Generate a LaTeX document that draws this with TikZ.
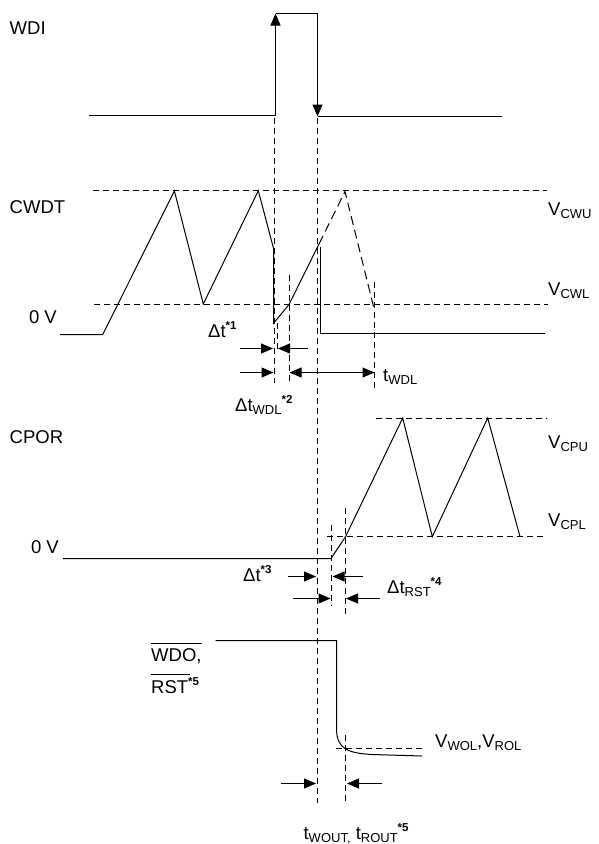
\documentclass[tikz,border=0pt]{standalone}
\usepackage{fontspec}
\setmainfont{Liberation Sans}
\usetikzlibrary{arrows.meta}
\newcommand\mysub[1]{\raisebox{-3pt}{\fontsize{13}{15}\selectfont #1}}
\newcommand\mysup[1]{\raisebox{8pt}{\fontsize{11.5}{14}\selectfont\bfseries #1}}
\begin{document}
\begin{tikzpicture}[x=1pt,y=-1pt,
  wave/.style={line width=1pt, line join=miter},
  guide/.style={line width=0.95pt, dash pattern=on 6pt off 4pt},
  arr/.style={line width=1pt,-{Triangle[length=12pt,width=10pt]}},
  darr/.style={line width=1pt,{Triangle[length=12pt,width=10pt]}-{Triangle[length=12pt,width=10pt]}},
  lbl/.style={inner sep=0pt, anchor=base west, font=\fontsize{18.5}{22}\selectfont},
  lble/.style={lbl, anchor=base east}]
\useasboundingbox (0,0) rectangle (598,844);

% ---------- WDI ----------
\coordinate (w1) at (88.5,115.5);
\coordinate (w2) at (275.5,115.5);
\coordinate (w3) at (275.5,13.5);
\coordinate (w4) at (317.5,13.5);
\coordinate (w5) at (317.5,116.5);
\coordinate (w6) at (502,116.5);
\draw[wave] (w1) -- (w2);
\draw[arr] (w2) -- (w3);
\draw[wave] (w3) -- (w4);
\draw[arr] (w4) -- (w5);
\draw[wave] (w5) -- (w6);

% ---------- guide verticals ----------
\coordinate (d1a) at (274.5,118);   \coordinate (d1b) at (274.5,383);
\coordinate (d1c) at (277.5,323);   \coordinate (d1d) at (277.5,353);
\coordinate (d2a) at (289.5,275);   \coordinate (d2b) at (289.5,383);
\coordinate (d3a) at (317.5,118);   \coordinate (d3b) at (317.5,803);
\coordinate (d4a) at (374.5,282);   \coordinate (d4b) at (374.5,390);
\coordinate (d5a) at (331.5,525);   \coordinate (d5b) at (331.5,606);
\coordinate (d6a) at (345.5,508);   \coordinate (d6b) at (345.5,615);
\coordinate (d6c) at (345.5,735);   \coordinate (d6d) at (345.5,803);
\draw[guide] (d1a) -- (d1b);
\draw[guide] (d1c) -- (d1d);
\draw[guide] (d2a) -- (d2b);
\draw[guide] (d3a) -- (d3b);
\draw[guide] (d4a) -- (d4b);
\draw[guide] (d5a) -- (d5b);
\draw[guide] (d6a) -- (d6b);
\draw[guide] (d6c) -- (d6d);

% ---------- CWDT ----------
\coordinate (vcwuL) at (93,190.5);  \coordinate (vcwuR) at (547,190.5);
\coordinate (vcwlL) at (94,304.5);  \coordinate (vcwlR) at (548,304.5);
\draw[guide] (vcwuL) -- (vcwuR);
\draw[guide] (vcwlL) -- (vcwlR);
\coordinate (c0) at (60,334.5);
\coordinate (c1) at (102.7,334.5);
\coordinate (c2) at (174.4,191);
\coordinate (c3) at (203.3,304);
\coordinate (c4) at (258.3,190.7);
\coordinate (c5) at (273.5,248.3);
\coordinate (c6) at (273.5,323.3);
\coordinate (c7) at (289,304.5);
\coordinate (c8) at (319,244);
\coordinate (c9) at (345,191.5);
\coordinate (c10) at (373.5,306.5);
\coordinate (r1) at (320.5,247);
\coordinate (r2) at (320.5,333.5);
\coordinate (r3) at (545,333.5);
\draw[wave] (c0) -- (c1) -- (c2) -- (c3) -- (c4) -- (c5) -- (c6) -- (c7) -- (c8);
\draw[line width=1pt, dash pattern=on 9pt off 5pt] (c8) -- (c9) -- (c10);
\draw[wave] (r1) -- (r2) -- (r3);

% dimension arrows CWDT
\coordinate (a1s) at (240,348.5);   \coordinate (a1e) at (273,348.5);
\coordinate (a2s) at (308,348.5);   \coordinate (a2e) at (278,348.5);
\coordinate (a3s) at (240,372.5);   \coordinate (a3e) at (273.5,372.5);
\coordinate (a4s) at (289.5,372.5); \coordinate (a4e) at (374.5,372.5);
\draw[arr] (a1s) -- (a1e);
\draw[arr] (a2s) -- (a2e);
\draw[arr] (a3s) -- (a3e);
\draw[darr] (a4s) -- (a4e);

% ---------- CPOR ----------
\coordinate (vcpuL) at (376,418.5);   \coordinate (vcpuR) at (547,418.5);
\coordinate (vcplL) at (327,536.5);   \coordinate (vcplR) at (543,536.5);
\draw[guide] (vcpuL) -- (vcpuR);
\draw[guide] (vcplL) -- (vcplR);
\coordinate (p0) at (63,558.5);
\coordinate (p1) at (331,558.5);
\coordinate (p2) at (345.5,536.7);
\coordinate (p3) at (402.7,418);
\coordinate (p4) at (432.3,536.7);
\coordinate (p5) at (487.7,418);
\coordinate (p6) at (520,536.7);
\draw[wave] (p0) -- (p1) -- (p2) -- (p3) -- (p4) -- (p5) -- (p6);

\coordinate (b1s) at (288.3,576.5); \coordinate (b1e) at (316,576.5);
\coordinate (b2s) at (363,576.5);   \coordinate (b2e) at (332.5,576.5);
\coordinate (b3s) at (293,598.5);   \coordinate (b3e) at (330.5,598.5);
\coordinate (b4s) at (380,598.5);   \coordinate (b4e) at (346,598.5);
\draw[arr] (b1s) -- (b1e);
\draw[arr] (b2s) -- (b2e);
\draw[arr] (b3s) -- (b3e);
\draw[arr] (b4s) -- (b4e);

% ---------- WDO / RST ----------
\coordinate (o0) at (215.6,640.5);
\coordinate (o1) at (336.5,640.5);
\coordinate (o2) at (336.5,728);
\coordinate (o3) at (372,754.5);
\coordinate (o4) at (422,756);
\draw[wave] (o0) -- (o1) -- (o2) .. controls (336.5,748) and (346,753) .. (o3) -- (o4);
\coordinate (vwolL) at (336,748.5); \coordinate (vwolR) at (425.6,748.5);
\draw[guide] (vwolL) -- (vwolR);
\coordinate (e1s) at (280.5,783.5); \coordinate (e1e) at (316,783.5);
\coordinate (e2s) at (381.7,783.5); \coordinate (e2e) at (347,783.5);
\draw[arr] (e1s) -- (e1e);
\draw[arr] (e2s) -- (e2e);

% ---------- labels ----------
\node[lbl] (tWDI) at (9.5,34) {WDI};
\node[lbl] (tCWDT) at (9.5,213.3) {CWDT};
\node[lble] (tZero1) at (57,323.5) {0 V};
\node[lbl] (tCPOR) at (9.5,443.3) {CPOR};
\node[lble] (tZero2) at (59,553) {0 V};
\node[lbl] (tVCWU) at (548,215) {V\mysub{CWU}};
\node[lbl] (tVCWL) at (548,295) {V\mysub{CWL}};
\node[lbl] (tVCPU) at (548,448.3) {V\mysub{CPU}};
\node[lbl] (tVCPL) at (548,526.7) {V\mysub{CPL}};
\node[lbl] (tDt1) at (208,337) {Δt\mysup{*1}};
\node[lbl] (tDtWDL) at (235,411.5) {Δt\mysub{WDL}\mysup{*2}};
\node[lbl] (tWDL) at (383,381) {t\mysub{WDL}};
\node[lbl] (tDt3) at (243,581.5) {Δt\mysup{*3}};
\node[lbl] (tDtRST) at (387,593) {Δt\mysub{RST}\mysup{*4}};
\node[lbl] (tVWOL) at (435,747) {V\mysub{WOL},V\mysub{ROL}};
\node[lbl] (tWDO) at (151,661.7) {WDO,};
\node[lbl] (tRST) at (151,693) {RST\mysup{*5}};
\node[lbl] (tWOUT) at (303.4,839) {t\mysub{WOUT,} t\mysub{ROUT}\mysup{*5}};
\coordinate (ov1a) at (151,643.5); \coordinate (ov1b) at (202,643.5);
\coordinate (ov2a) at (151,674.5); \coordinate (ov2b) at (190,674.5);
\draw[line width=0.9pt] (ov1a) -- (ov1b);
\draw[line width=0.9pt] (ov2a) -- (ov2b);
\end{tikzpicture}
\end{document}
